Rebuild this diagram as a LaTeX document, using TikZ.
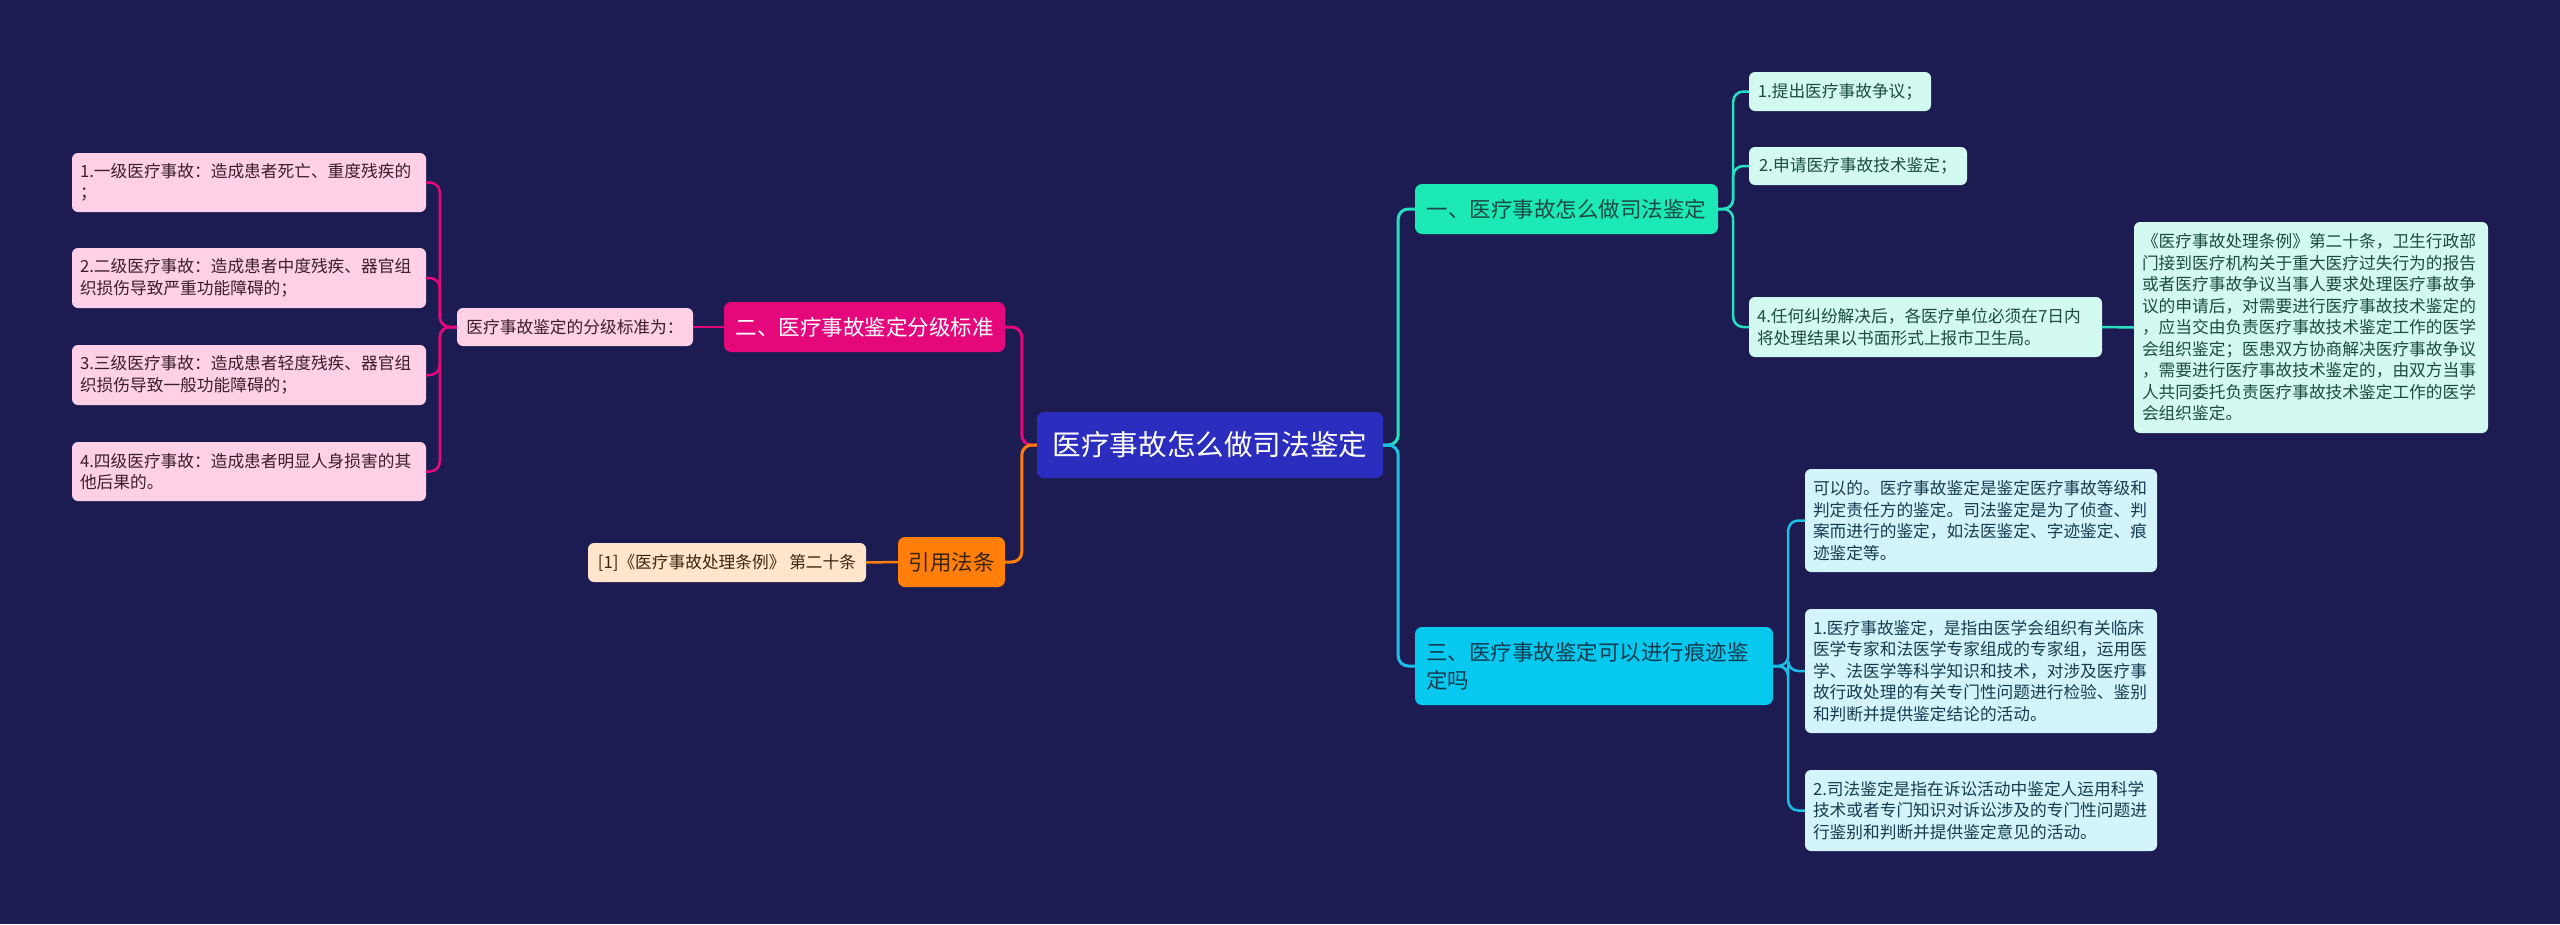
\documentclass[tikz,border=0pt]{standalone}
\usepackage{fontspec}
\setmainfont{Noto Sans CJK SC}
\usetikzlibrary{positioning}

\definecolor{bgnavy}{HTML}{1C1B52}
\definecolor{rootblue}{HTML}{2B2DBF}
\definecolor{mint}{HTML}{1DE9B6}
\definecolor{mintline}{HTML}{27E0C0}
\definecolor{mintleaf}{HTML}{D2FAF0}
\definecolor{mintdark}{HTML}{1B4A42}
\definecolor{sky}{HTML}{07C8EE}
\definecolor{skyline}{HTML}{1BC0E6}
\definecolor{skyleaf}{HTML}{D4F4FC}
\definecolor{skydark}{HTML}{143C50}
\definecolor{rose}{HTML}{E5087C}
\definecolor{roseleaf}{HTML}{FFD0E6}
\definecolor{rosedark}{HTML}{3A1E2E}
\definecolor{amber}{HTML}{FF7F0A}
\definecolor{amberleaf}{HTML}{FFE5CC}
\definecolor{amberdark}{HTML}{3A2410}

\begin{document}
\begin{tikzpicture}[x=1pt, y=-1pt]
  \tikzstyle{branch} = [rounded corners=7pt, inner xsep=11pt, inner ysep=0pt, align=left, font=\fontsize{21.5}{28}\selectfont]
  \tikzstyle{leaf} = [rounded corners=6pt, inner xsep=8pt, inner ysep=0pt, align=left, font=\fontsize{16.7}{21.5}\selectfont]
  \tikzstyle{link} = [line width=3pt, rounded corners=10pt]
  \fill[bgnavy] (0,0) rectangle (2560,924);
  \useasboundingbox (0,0) rectangle (2560,924);

  % root
  \node[rounded corners=7pt, fill=rootblue, text=white, minimum width=346pt, minimum height=66pt, font=\fontsize{28.6}{34}\selectfont] (root) at (1210,445) {医疗事故怎么做司法鉴定};

  % first branch
  \node[branch, fill=mint, text=mintdark, minimum width=303pt, minimum height=50pt] (how) at (1566.5,209) {一、医疗事故怎么做司法鉴定};
  \node[leaf, fill=mintleaf, text=mintdark, minimum width=182pt, minimum height=39pt] (raise) at (1840,91.5) {1.提出医疗事故争议；};
  \node[leaf, fill=mintleaf, text=mintdark, minimum width=218pt, minimum height=38pt] (apply) at (1858,166) {2.申请医疗事故技术鉴定；};
  \node[leaf, fill=mintleaf, text=mintdark, text width=337pt, minimum height=60pt] (report) at (1925.5,327) {4.任何纠纷解决后，各医疗单位必须在7日内\\将处理结果以书面形式上报市卫生局。};
  \node[leaf, fill=mintleaf, text=mintdark, text width=338pt, minimum height=211pt] (rule) at (2311,327.5) {《医疗事故处理条例》第二十条，卫生行政部\\门接到医疗机构关于重大医疗过失行为的报告\\或者医疗事故争议当事人要求处理医疗事故争\\议的申请后，对需要进行医疗事故技术鉴定的\\，应当交由负责医疗事故技术鉴定工作的医学\\会组织鉴定；医患双方协商解决医疗事故争议\\，需要进行医疗事故技术鉴定的，由双方当事\\人共同委托负责医疗事故技术鉴定工作的医学\\会组织鉴定。};

  % third branch
  \node[branch, fill=sky, text=skydark, text width=336pt, minimum height=78pt] (trace) at (1594,666) {三、医疗事故鉴定可以进行痕迹鉴\\定吗};
  \node[leaf, fill=skyleaf, text=skydark, text width=336pt, minimum height=103pt] (yes) at (1981,520.5) {可以的。医疗事故鉴定是鉴定医疗事故等级和\\判定责任方的鉴定。司法鉴定是为了侦查、判\\案而进行的鉴定，如法医鉴定、字迹鉴定、痕\\迹鉴定等。};
  \node[leaf, fill=skyleaf, text=skydark, text width=336pt, minimum height=124pt] (medical) at (1981,671) {1.医疗事故鉴定，是指由医学会组织有关临床\\医学专家和法医学专家组成的专家组，运用医\\学、法医学等科学知识和技术，对涉及医疗事\\故行政处理的有关专门性问题进行检验、鉴别\\和判断并提供鉴定结论的活动。};
  \node[leaf, fill=skyleaf, text=skydark, text width=336pt, minimum height=81pt] (forensic) at (1981,810.5) {2.司法鉴定是指在诉讼活动中鉴定人运用科学\\技术或者专门知识对诉讼涉及的专门性问题进\\行鉴别和判断并提供鉴定意见的活动。};

  % second branch
  \node[branch, fill=rose, text=white, minimum width=281pt, minimum height=50pt] (grade) at (864.5,327) {二、医疗事故鉴定分级标准};
  \node[leaf, fill=roseleaf, text=rosedark, minimum width=236pt, minimum height=38pt] (gradeintro) at (575,327) {医疗事故鉴定的分级标准为：};
  \node[leaf, fill=roseleaf, text=rosedark, text width=338pt, minimum height=59pt] (level1) at (249,182.5) {1.一级医疗事故：造成患者死亡、重度残疾的\\；};
  \node[leaf, fill=roseleaf, text=rosedark, text width=338pt, minimum height=60pt] (level2) at (249,278) {2.二级医疗事故：造成患者中度残疾、器官组\\织损伤导致严重功能障碍的；};
  \node[leaf, fill=roseleaf, text=rosedark, text width=338pt, minimum height=60pt] (level3) at (249,375) {3.三级医疗事故：造成患者轻度残疾、器官组\\织损伤导致一般功能障碍的；};
  \node[leaf, fill=roseleaf, text=rosedark, text width=338pt, minimum height=59pt] (level4) at (249,471.5) {4.四级医疗事故：造成患者明显人身损害的其\\他后果的。};

  % citation
  \node[branch, fill=amber, text=amberdark, minimum width=107pt, minimum height=50pt, inner xsep=0pt] (cite) at (951.5,562) {引用法条};
  \node[leaf, fill=amberleaf, text=amberdark, minimum width=278pt, minimum height=39pt] (citeref) at (727,562.5) {[1]《医疗事故处理条例》 第二十条};

  % connectors
  \draw[link, mintline] (root.east) -- ++(15,0) |- (how.west);
  \draw[link, skyline] (root.east) -- ++(15,0) |- (trace.west);
  \draw[link, rose] (root.west) -- ++(-15,0) |- (grade.east);
  \draw[link, amber] (root.west) -- ++(-15,0) |- (cite.east);
  \foreach \k in {raise, apply, report}
    \draw[link, mintline, line width=2.5pt] (how.east) -- ++(15,0) |- (\k.west);
  \draw[mintline, line width=2.5pt] (report.east) -- (rule.west);
  \foreach \k in {yes, medical, forensic}
    \draw[link, skyline, line width=2.5pt] (trace.east) -- ++(15,0) |- (\k.west);
  \draw[rose, line width=2.5pt] (grade.west) -- (gradeintro.east);
  \foreach \k in {level1, level2, level3, level4}
    \draw[link, rose, line width=2.5pt] (gradeintro.west) -- ++(-17,0) |- (\k.east);
  \draw[amber, line width=2.5pt] (cite.west) -- (citeref.east);
\end{tikzpicture}
\end{document}
